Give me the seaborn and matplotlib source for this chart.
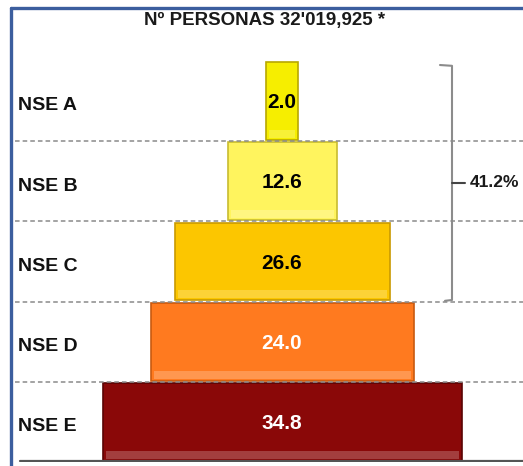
import matplotlib
matplotlib.use("Agg")
import matplotlib.pyplot as plt
import seaborn as sns
import pandas as pd
from matplotlib.patches import Rectangle
from matplotlib.lines import Line2D
from matplotlib.transforms import blended_transform_factory

# Daten
niveles = ["NSE A", "NSE B", "NSE C", "NSE D", "NSE E"]
porcentajes = [2.0, 12.6, 26.6, 24.0, 34.8]
anchos = [3.2, 10.9, 21.5, 26.3, 35.9]  # sichtbare Breite der Blöcke
colores = ["#F6EE00", "#FFF45E", "#FCC600", "#FF7A1F", "#8A0808"]
bordes = ["#B8A800", "#C8BC30", "#C99A00", "#C85A10", "#5A0404"]
colores_texto = ["black", "black", "black", "white", "white"]
titulo = "Nº PERSONAS 32'019,925 *"
total_abc = "41.2%"

sns.set_theme(style="white")
plt.rcParams["font.family"] = ["Liberation Sans Narrow", "Liberation Sans", "DejaVu Sans"]

df = pd.DataFrame({"nivel": niveles,
                   "der": [a / 2 for a in anchos],
                   "izq": [-a / 2 for a in anchos]})

fig = plt.figure(figsize=(5.23, 4.66), dpi=100)
ax = fig.add_axes([0, 4 / 466, 1, 401 / 466])

# Pyramide: zwei Hälften um 0 zentriert
for col in ["der", "izq"]:
    sns.barplot(data=df, x=col, y="nivel", hue="nivel", palette=colores,
                orient="h", width=0.97, legend=False, ax=ax, linewidth=0,
                saturation=1)

# Rahmen / Bevel-Effekt
for i, a in enumerate(anchos):
    ax.add_patch(Rectangle((-a / 2, i - 0.485), a, 0.97, fill=False,
                           edgecolor=bordes[i], lw=1.2, zorder=3))
    ax.add_patch(Rectangle((-a / 2 + 0.3, i + 0.36), a - 0.6, 0.1,
                           facecolor="white", alpha=0.22, lw=0, zorder=3))
    ax.text(0, i + 0.02, f"{porcentajes[i]:.1f}", ha="center", va="center",
            fontsize=15, fontweight="bold", color=colores_texto[i], zorder=4)

ax.set_xlim(-28.2, 24.1)
ax.set_ylim(4.5, -0.5)
ax.set_axis_off()

# gestrichelte Trennlinien
for y in [0.5, 1.5, 2.5, 3.5]:
    ax.axhline(y, xmin=15 / 523, color="#8a8a8a", lw=1.1, ls=(0, (3, 2)), zorder=5)
ax.axhline(4.49, xmin=20 / 523, color="#555555", lw=1.6, zorder=5)

# Beschriftung links
tr = blended_transform_factory(ax.transAxes, ax.transData)
for i, n in enumerate(niveles):
    ax.text(18 / 523, i + 0.06, n, transform=tr, ha="left", va="center",
            fontsize=14, fontweight="bold", color="#111111")

# Klammer NSE A-C
bx = 17.0
ax.plot([15.8, bx, bx, 16.3], [-0.45, -0.44, 2.48, 2.49], color="#8c8c8c", lw=1.5,
        solid_capstyle="round", clip_on=False)
ax.plot([bx, 18.3], [1.02, 1.02], color="#444444", lw=1.5, clip_on=False)
ax.text(18.8, 1.02, total_abc, ha="left", va="center", fontsize=12.5,
        fontweight="bold", color="#1a1a1a", clip_on=False)

# Titel
fig.text(265 / 523, 1 - 20 / 466, titulo, ha="center", va="center",
         fontsize=13.5, fontweight="bold", color="#1a1a1a")

# blauer Rand
fig.add_artist(Line2D([11 / 523, 11 / 523], [0, 1 - 8 / 466], color="#3C5E9E", lw=2.4))
fig.add_artist(Line2D([11 / 523, 1], [1 - 8 / 466, 1 - 8 / 466], color="#3C5E9E", lw=2.4))

fig.savefig("out.png", dpi=100)
